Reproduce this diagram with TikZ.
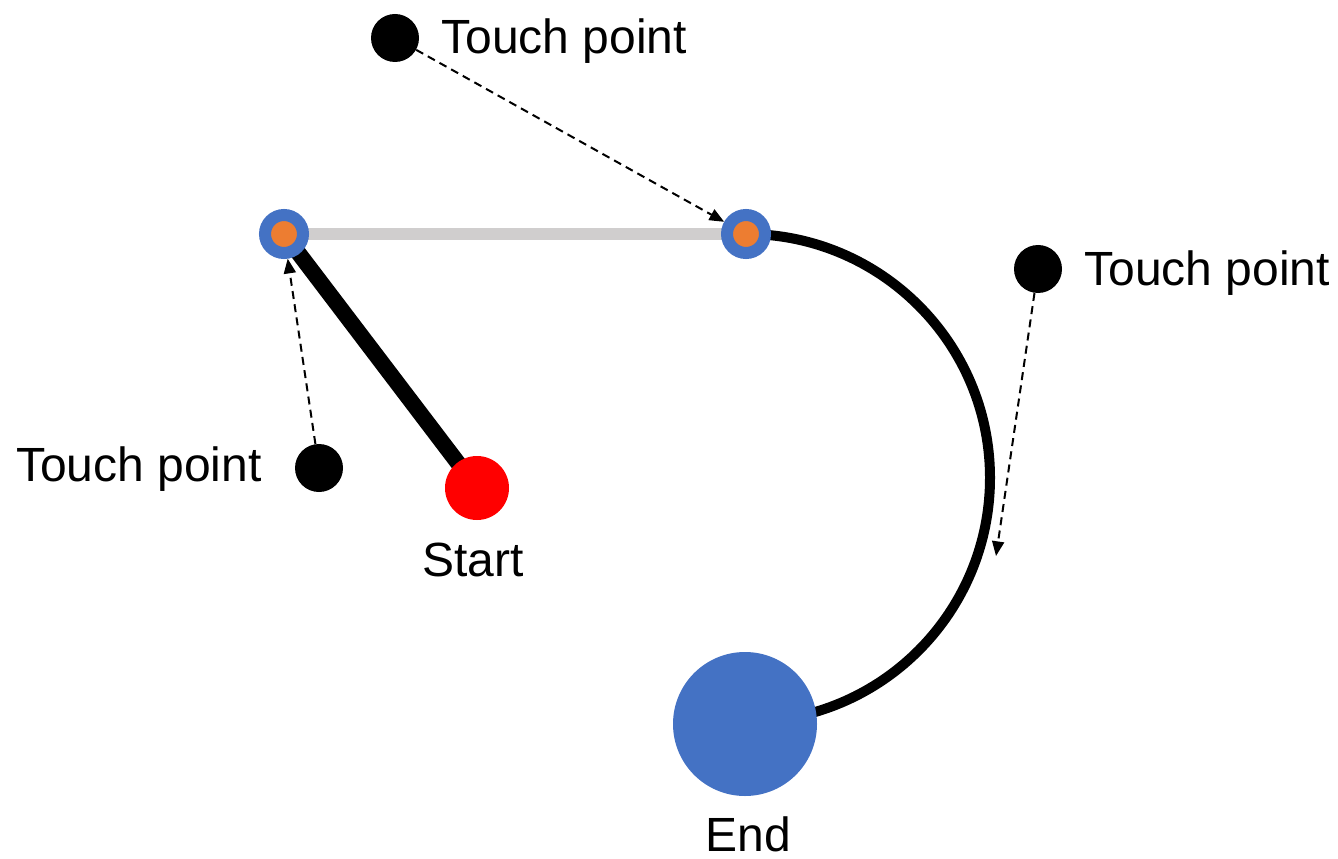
\documentclass[tikz,border=0pt]{standalone}
\usepackage{fontspec}
\setmainfont{Liberation Sans}
\usetikzlibrary{arrows.meta,backgrounds}

\definecolor{pivotblue}{RGB}{68,114,196}
\definecolor{pivotorange}{RGB}{237,125,49}
\definecolor{bargray}{RGB}{208,206,206}
\definecolor{startred}{RGB}{255,0,0}

\tikzset{
    touch/.style={circle,fill=black,inner sep=0pt,minimum size=36pt},
    pivot/.style={circle,draw=pivotblue,fill=pivotorange,line width=9pt,inner sep=0pt,minimum size=28.5pt},
    tag/.style={inner sep=0pt,font=\fontsize{36}{43}\selectfont},
    hint/.style={dash pattern=on 6pt off 4pt,line width=1.5pt,-{Triangle[length=11pt,width=9pt]}}
}

\begin{document}
\begin{tikzpicture}[x=0.75pt,y=0.75pt,yscale=-1,xscale=1]
    \useasboundingbox (0,0) rectangle (1338,859);

    % pivots and end points
    \node[pivot] (pA) at (284,234) {};
    \node[pivot] (pB) at (746,234) {};
    \node[circle,fill=startred,inner sep=0pt,minimum size=48pt] (start) at (477,488) {};
    \node[circle,fill=pivotblue,inner sep=0pt,minimum size=108pt] (end) at (745,724) {};

    % touch points
    \node[touch] (tp1) at (395,38) {};
    \node[touch] (tp2) at (1038,269) {};
    \node[touch] (tp3) at (319,468) {};
    \coordinate (hit) at (996,556);

    % text
    \node[tag,anchor=base west] (tp1label) at (441,54) {Touch point};
    \node[tag,anchor=base west] (tp2label) at (1084,286) {Touch point};
    \node[tag,anchor=base east] (tp3label) at (262,481) {Touch point};
    \node[tag,anchor=base] (startlabel) at (473,576) {Start};
    \node[tag,anchor=base] (endlabel) at (748,851) {End};

    % path segments under the dots
    \begin{scope}[on background layer]
        \draw[bargray,line width=8.5pt] (pA.center) -- (pB.center);
        \draw[black,line width=12pt] (pA.center) -- (start.center);
        \draw[black,line width=7.5pt] (pB.center) arc[start angle=-90,end angle=80,radius=244];
    \end{scope}

    % dashed hints
    \draw[hint] (tp1) -- (pB);
    \draw[hint] (tp3) -- (pA);
    \draw[hint] (tp2) -- (hit);
\end{tikzpicture}
\end{document}
